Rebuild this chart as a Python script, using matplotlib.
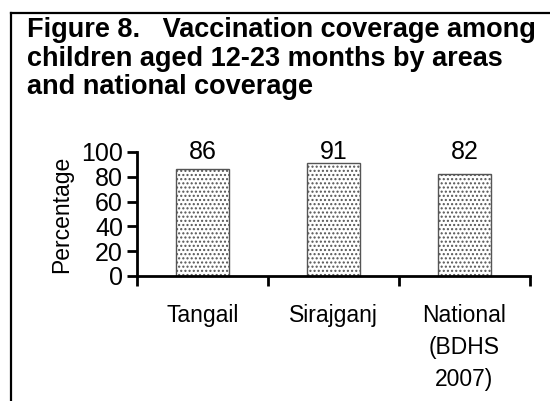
import matplotlib
matplotlib.use("Agg")
import matplotlib.pyplot as plt
from matplotlib.lines import Line2D

plt.rcParams['font.family'] = ['Liberation Sans', 'DejaVu Sans']
plt.rcParams['hatch.color'] = '#555555'
plt.rcParams['hatch.linewidth'] = 1.0

# Vaccination coverage (%) for children aged 12-23 months
areas = ["Tangail", "Sirajganj", "National\n(BDHS\n2007)"]
coverage = [86, 91, 82]
yticks = [0, 20, 40, 60, 80, 100]

fig = plt.figure(figsize=(5.5, 4.01), dpi=100)
ax = fig.add_axes([0.249, 0.312, 0.7146, 0.309])

pos = list(range(len(areas)))
ax.bar(pos, coverage, width=0.4, color='white', edgecolor='#555555',
       linewidth=1.0, hatch='....')

# value labels sit in a row level with the top tick
for x, v in zip(pos, coverage):
    ax.text(x, 100, str(v), ha='center', va='center', fontsize=18)

ax.set_xlim(-0.5, len(areas) - 0.5)
ax.set_ylim(0, 100)
ax.set_yticks(yticks)
ax.set_yticklabels([str(t) for t in yticks], fontsize=18)
ax.set_xticks([p - 0.5 for p in pos] + [len(areas) - 0.5])
ax.set_xticklabels([])
ax.set_xticks(pos, minor=True)
ax.set_xticklabels(areas, minor=True, fontsize=16.5, linespacing=1.5, va='top')
ax.tick_params(axis='x', which='minor', length=0, pad=20)
ax.tick_params(axis='both', which='major', length=7, width=2, direction='out')
ax.tick_params(axis='y', pad=3)

for side in ['top', 'right']:
    ax.spines[side].set_visible(False)
for side in ['left', 'bottom']:
    ax.spines[side].set_linewidth(2)

ax.set_ylabel("Percentage", fontsize=16.5, labelpad=5.5)

fig.text(0.049, 1 - 17 / 401,
         "Figure 8.   Vaccination coverage among\nchildren aged 12-23 months by areas\nand national coverage",
         fontsize=19.5, fontweight='bold', ha='left', va='top', linespacing=1.13)

# box outline on the left and top
fig.add_artist(Line2D([11 / 550, 11 / 550], [0, 1 - 13 / 401], color='black', linewidth=1.6))
fig.add_artist(Line2D([11 / 550, 1], [1 - 13 / 401, 1 - 13 / 401], color='black', linewidth=1.6))

fig.savefig("out.png", dpi=100)
